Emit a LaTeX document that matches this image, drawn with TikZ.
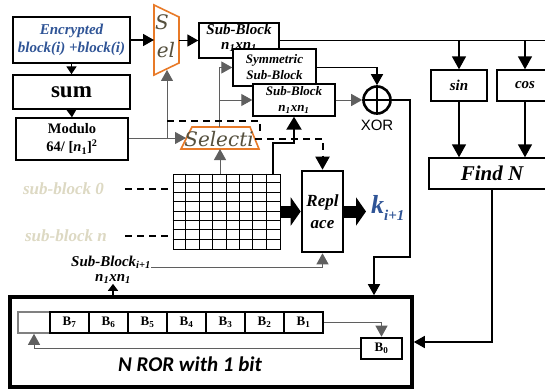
\documentclass[tikz,border=0pt]{standalone}
\usepackage{fontspec}
\setmainfont{Liberation Serif}
\setsansfont{Liberation Sans}
\newfontfamily\dvs{DejaVu Serif}
\newfontfamily\carl{Carlito}
\usetikzlibrary{arrows.meta,calc}
\definecolor{encblue}{RGB}{47,84,150}
\definecolor{selor}{RGB}{232,122,40}
\definecolor{olivetxt}{RGB}{85,80,62}
\definecolor{beigetxt}{RGB}{221,217,195}
\definecolor{thinln}{RGB}{95,95,95}
\newcommand{\fsz}[2]{\fontsize{#1}{#2}\selectfont}
\begin{document}
\begin{tikzpicture}[x=1pt,y=-1pt,
 box/.style={draw, line width=1.4pt, fill=white, inner sep=0pt, align=center},
 tip/.style={-{Triangle[length=11pt,width=12pt]}},
 tipS/.style={-{Triangle[length=8pt,width=10pt]}},
 tipL/.style={-{Triangle[length=13pt,width=14pt]}},
 ln/.style={line width=1.6pt},
 thk/.style={line width=2.2pt},
 gl/.style={draw=thinln, line width=0.9pt},
 dsh/.style={line width=2pt, dash pattern=on 7pt off 5pt},
 cell/.style={draw, line width=2pt, minimum width=39pt, minimum height=21pt, inner sep=0pt, font=\fsz{13}{15}\bfseries},
 ]
\useasboundingbox (0,0) rectangle (545,390);
\fill[white] (0,0) rectangle (545,390);

% left column
\node[box, minimum width=117pt, minimum height=46pt, text=encblue, font=\fsz{15}{18}\bfseries\itshape] (enc) at (71.5,40) {Encrypted\\block(i) +block(i)};
\node[box, minimum width=117pt, minimum height=34pt, font=\fsz{23}{24}\bfseries] (sum) at (71.5,92) {sum};
\node[box, minimum width=112pt, minimum height=42pt, font=\fsz{14.5}{18}\bfseries] (mod) at (72,139) {Modulo\\64/ [\textit{n}\textsubscript{1}]\textsuperscript{2}};
\draw[ln,tipS] (enc.south) -- (sum.north);
\draw[ln,tipS] (sum.south) -- (mod.north);

% Sel trapezoid
\draw[selor, line width=1.6pt, fill=white] (154,5) -- (179,17) -- (179,63) -- (154,75) -- cycle;
\node[inner sep=0pt, text=olivetxt, font=\fsz{20}{22}\dvs\itshape] (selS1) at (162,22) {S};
\node[inner sep=0pt, text=olivetxt, font=\fsz{20}{22}\dvs\itshape] (selS2) at (166,50) {el};
\coordinate (selW) at (154,40);
\coordinate (selE) at (179,40.5);
\coordinate (selB) at (167,70);

% sub-blocks
\node[box, minimum width=80pt, minimum height=35pt] (sb1) at (239,40.5) {};
\node[inner sep=0pt, align=center, font=\fsz{15}{15}\bfseries\itshape] (sb1t) at (239,38) {Sub-Block\\\textit{n}\textsubscript{1}x\textit{n}\textsubscript{1}};
\node[box, minimum width=83pt, minimum height=37pt, font=\fsz{13}{16}\bfseries\itshape] (sym) at (274.5,67.5) {Symmetric\\Sub-Block};
\node[box, minimum width=82pt, minimum height=32pt, font=\fsz{13}{16}\bfseries\itshape] (sb2) at (294,100) {Sub-Block\\\textit{n}\textsubscript{1}x\textit{n}\textsubscript{1}};

\draw[ln,tip] (enc.east) -- (enc.east -| selW);
\draw[ln,tip] (selE) -- (sb1.west);

% XOR
\node[circle, draw, line width=2.6pt, minimum size=27pt, inner sep=0pt] (xor) at (377,100) {};
\draw[line width=2.6pt] (xor.north) -- (xor.south) (xor.west) -- (xor.east);
\node[anchor=north, inner sep=0pt, font=\fsz{15}{17}\sffamily] (xorl) at (377,120) {XOR};
\draw[ln,tip] (sym.east) -| (xor.north);
\draw[gl,tip] (sb2.east) -- (xor.west);

% sin cos find N
\node[box, minimum width=56pt, minimum height=31pt, font=\fsz{15}{17}\bfseries\itshape] (sin) at (459,85.5) {sin};
\node[box, minimum width=56pt, minimum height=31pt, font=\fsz{15}{17}\bfseries\itshape] (cos) at (525,85.5) {cos};
\node[box, minimum width=126pt, minimum height=31pt, font=\fsz{21}{22}\bfseries\itshape] (findn) at (492,173.5) {Find N};
\coordinate (rtend) at (552,40.5);
\draw[ln] (sb1.east) -- (rtend);
\draw[ln,tipL] (sin.north |- sb1.east) -- (sin.north);
\draw[ln,tipL] (cos.north |- sb1.east) -- (cos.north);
\draw[ln,tipL] (sin.south) -- (sin.south |- findn.north);
\draw[ln,tipL] (cos.south) -- (cos.south |- findn.north);

% Selecti trapezoid
\draw[selor, line width=1.6pt, fill=white] (181,149) -- (192,127) -- (250,127) -- (259,149) -- cycle;
\node[inner sep=0pt, text=olivetxt, font=\fsz{20}{22}\dvs\itshape] (selt) at (219,139) {Selecti};
\coordinate (slW) at (186,138);
\coordinate (slN) at (219,127);
\coordinate (slS) at (220,149);
\coordinate (slE) at (255,139);

\draw[gl,tip] (mod.east |- slW) -- (slW);
\draw[gl,tip] (selB |- slW) -- (selB);
\draw[gl,tip] (slN) -- (slN |- sym.west) -- (sym.west);
\draw[gl,tip] (slN |- sb2.west) -- (sb2.west);

% dashed
\coordinate (d1) at (167,121);
\coordinate (d2) at (260,121);
\coordinate (d3) at (260,133);
\draw[dsh] (d1) -- (d2) -- (d3);

% grid
\node[draw, line width=1pt, minimum width=107pt, minimum height=75pt, inner sep=0pt] (grid) at (226.5,211.5) {};
\foreach \i in {1,...,7} {
  \draw[line width=1pt] ($(grid.north west)+(\i*13.375,0)$) -- ($(grid.south west)+(\i*13.375,0)$);
  \draw[line width=1pt] ($(grid.north west)+(0,\i*9.375)$) -- ($(grid.north east)+(0,\i*9.375)$);
}
\draw[gl,tip] (grid.north -| slS) -- (slS);

% replace
\node[box, line width=2.6pt, minimum width=41pt, minimum height=81pt, font=\fsz{17}{22}\bfseries\itshape] (rep) at (322.5,211.5) {Repl\\ace};
\draw[dsh,tipL] (slE) -| (rep.north);
\coordinate (g1) at (273,174);
\coordinate (g2) at (294,143);
\draw[thk,-{Triangle[length=13pt,width=15pt]}] (g1) |- (g2) -- (sb2.south);
\draw[line width=12pt,-{Triangle[length=10pt,width=28pt]}] (grid.east) -- (rep.west);
\node[anchor=west, inner sep=0pt, text=encblue, font=\fsz{26}{28}\bfseries\itshape] (kk) at (371,208) {k\raisebox{-0.3em}{\fsz{15}{15}\selectfont i+1}};
\coordinate (ktip) at (366,211.5);
\draw[line width=12pt,-{Triangle[length=10pt,width=28pt]}] (rep.east) -- (ktip);

% sub-block labels
\node[anchor=east, inner sep=0pt, text=beigetxt, font=\fsz{17}{19}\bfseries\itshape] (sb0) at (104,189) {sub-block 0};
\node[anchor=east, inner sep=0pt, text=beigetxt, font=\fsz{17}{19}\bfseries\itshape] (sbn) at (107,236) {sub-block n};
\draw[dsh] ($(sb0.east)+(21,0)$) -- (sb0.east -| grid.west);
\draw[dsh] ($(sbn.east)+(18,0)$) -- (sbn.east -| grid.west);

\node[inner sep=0pt, font=\fsz{15}{17}\bfseries\itshape] (sbi1) at (111,262) {Sub-Block\textsubscript{i+1}};
\node[inner sep=0pt, font=\fsz{15}{17}\bfseries\itshape] (sbi2) at (113,279) {\textit{n}\textsubscript{1}x\textit{n}\textsubscript{1}};
\draw[gl,tip] ($(sbi1.east)+(0,5)$) -| (rep.south);

% big box
\node[draw, line width=3.6pt, minimum width=402pt, minimum height=90pt, inner sep=0pt] (big) at (211,342) {};
\draw[ln,-{Triangle[length=7pt,width=10pt]}] (big.north -| sbi2) -- (sbi2.south);
\draw[ln,tip] (findn.south) |- (big.east);
\coordinate (xo1) at (410,257);
\coordinate (xo2) at (374,257);
\draw[ln,tip] (xor.east) -| (xo1) -- (xo2) -- (xo2 |- big.north);

% cells
\node[draw=gray, line width=1.6pt, minimum width=32pt, minimum height=21pt, inner sep=0pt] (c8) at (34,322.5) {};
\foreach \n [count=\k from 0] in {7,6,5,4,3,2,1}
  \node[cell] (b\n) at ({69.5+39*\k},322.5) {B\textsubscript{\n}};
\node[cell, line width=2.6pt, minimum width=41pt] (b0) at (381.5,348.5) {B\textsubscript{0}};
\draw[gl,tip] (b1.east) -| (b0.north);
\draw[gl,tip] (b0.west) -| (c8.south);
\node[inner sep=0pt, font=\fsz{21}{22}\carl\bfseries\itshape] (nror) at (190,364) {N ROR with 1 bit};
\end{tikzpicture}
\end{document}
